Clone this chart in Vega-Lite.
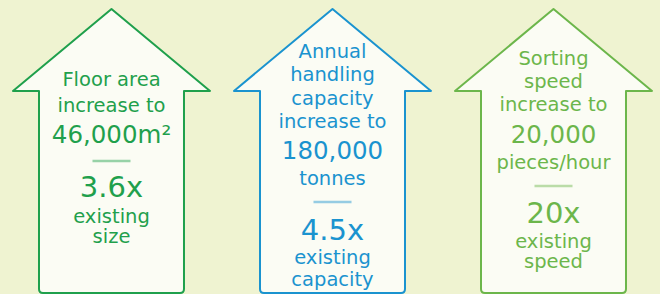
{
  "$schema": "https://vega.github.io/schema/vega-lite/v6.json",
  "width": 660,
  "height": 294,
  "autosize": {"type": "none"},
  "padding": 0,
  "background": "#eff3d1",
  "view": {"stroke": null},
  "config": {"font": "DejaVu Sans"},
  "datasets": {
    "arrows": [
      {"arrow": "area", "pos": 1, "row": 10.75},
      {"arrow": "capacity", "pos": 2, "row": 10.75},
      {"arrow": "speed", "pos": 3, "row": 10.75}
    ],
    "separators": [
      {"arrow": "area", "pos": 1, "row": 16.1},
      {"arrow": "capacity", "pos": 2, "row": 20.2},
      {"arrow": "speed", "pos": 3, "row": 18.6}
    ],
    "lines": [
      {"arrow": "area", "pos": 1, "row": 8.6, "role": "label", "text": "Floor area"},
      {"arrow": "area", "pos": 1, "row": 11.15, "role": "label", "text": "increase to"},
      {"arrow": "area", "pos": 1, "row": 14.3, "role": "figure", "text": "46,000m²"},
      {"arrow": "area", "pos": 1, "row": 19.7, "role": "multiple", "text": "3.6x"},
      {"arrow": "area", "pos": 1, "row": 22.25, "role": "label", "text": "existing"},
      {"arrow": "area", "pos": 1, "row": 24.3, "role": "label", "text": "size"},
      {"arrow": "capacity", "pos": 2, "row": 5.8, "role": "label", "text": "Annual"},
      {"arrow": "capacity", "pos": 2, "row": 8.1, "role": "label", "text": "handling"},
      {"arrow": "capacity", "pos": 2, "row": 10.5, "role": "label", "text": "capacity"},
      {"arrow": "capacity", "pos": 2, "row": 12.8, "role": "label", "text": "increase to"},
      {"arrow": "capacity", "pos": 2, "row": 15.9, "role": "figure", "text": "180,000"},
      {"arrow": "capacity", "pos": 2, "row": 18.5, "role": "label", "text": "tonnes"},
      {"arrow": "capacity", "pos": 2, "row": 23.95, "role": "multiple", "text": "4.5x"},
      {"arrow": "capacity", "pos": 2, "row": 26.35, "role": "label", "text": "existing"},
      {"arrow": "capacity", "pos": 2, "row": 28.55, "role": "label", "text": "capacity"},
      {"arrow": "speed", "pos": 3, "row": 6.5, "role": "label", "text": "Sorting"},
      {"arrow": "speed", "pos": 3, "row": 8.8, "role": "label", "text": "speed"},
      {"arrow": "speed", "pos": 3, "row": 11.1, "role": "label", "text": "increase to"},
      {"arrow": "speed", "pos": 3, "row": 14.25, "role": "figure", "text": "20,000"},
      {"arrow": "speed", "pos": 3, "row": 16.85, "role": "label", "text": "pieces/hour"},
      {"arrow": "speed", "pos": 3, "row": 22.3, "role": "multiple", "text": "20x"},
      {"arrow": "speed", "pos": 3, "row": 24.75, "role": "label", "text": "existing"},
      {"arrow": "speed", "pos": 3, "row": 26.8, "role": "label", "text": "speed"}
    ]
  },
  "encoding": {
    "x": {"field": "pos", "type": "quantitative", "axis": null, "scale": {"domain": [0.4955, 3.4819], "zero": false, "nice": false}},
    "y": {"field": "row", "type": "quantitative", "axis": null, "scale": {"domain": [0, 29.4], "reverse": true, "zero": false, "nice": false}}
  },
  "layer": [
    {
      "data": {"name": "arrows"},
      "mark": {
        "type": "point",
        "shape": "M0,-1 L1,-0.168 L0.736,-0.168 L0.736,1.843 Q0.736,1.883 0.696,1.883 L-0.696,1.883 Q-0.736,1.883 -0.736,1.843 L-0.736,-0.168 L-1,-0.168 Z",
        "size": 38809,
        "filled": true,
        "fill": "#fbfcf4",
        "strokeWidth": 2,
        "strokeJoin": "round",
        "opacity": 1
      },
      "encoding": {
        "stroke": {"field": "arrow", "type": "nominal", "legend": null, "scale": {"domain": ["area", "capacity", "speed"], "range": ["#1fa04c", "#1a93cf", "#6cb64b"]}}
      }
    },
    {
      "data": {"name": "separators"},
      "mark": {"type": "point", "shape": "stroke", "size": 1444, "filled": false, "strokeWidth": 2.5, "opacity": 0.45},
      "encoding": {
        "stroke": {"field": "arrow", "type": "nominal", "legend": null}
      }
    },
    {
      "data": {"name": "lines"},
      "transform": [{"filter": "datum.role === 'label'"}],
      "mark": {"type": "text", "align": "center", "baseline": "alphabetic", "font": "DejaVu Sans", "fontSize": 19.5},
      "encoding": {
        "text": {"field": "text", "type": "nominal"},
        "color": {"field": "arrow", "type": "nominal", "legend": null, "scale": {"domain": ["area", "capacity", "speed"], "range": ["#1fa04c", "#1a93cf", "#6cb64b"]}}
      }
    },
    {
      "data": {"name": "lines"},
      "transform": [{"filter": "datum.role === 'figure'"}],
      "mark": {"type": "text", "align": "center", "baseline": "alphabetic", "font": "DejaVu Sans", "fontSize": 24.5},
      "encoding": {
        "text": {"field": "text", "type": "nominal"},
        "color": {"field": "arrow", "type": "nominal", "legend": null}
      }
    },
    {
      "data": {"name": "lines"},
      "transform": [{"filter": "datum.role === 'multiple'"}],
      "mark": {"type": "text", "align": "center", "baseline": "alphabetic", "font": "DejaVu Sans", "fontSize": 29},
      "encoding": {
        "text": {"field": "text", "type": "nominal"},
        "color": {"field": "arrow", "type": "nominal", "legend": null}
      }
    }
  ]
}
